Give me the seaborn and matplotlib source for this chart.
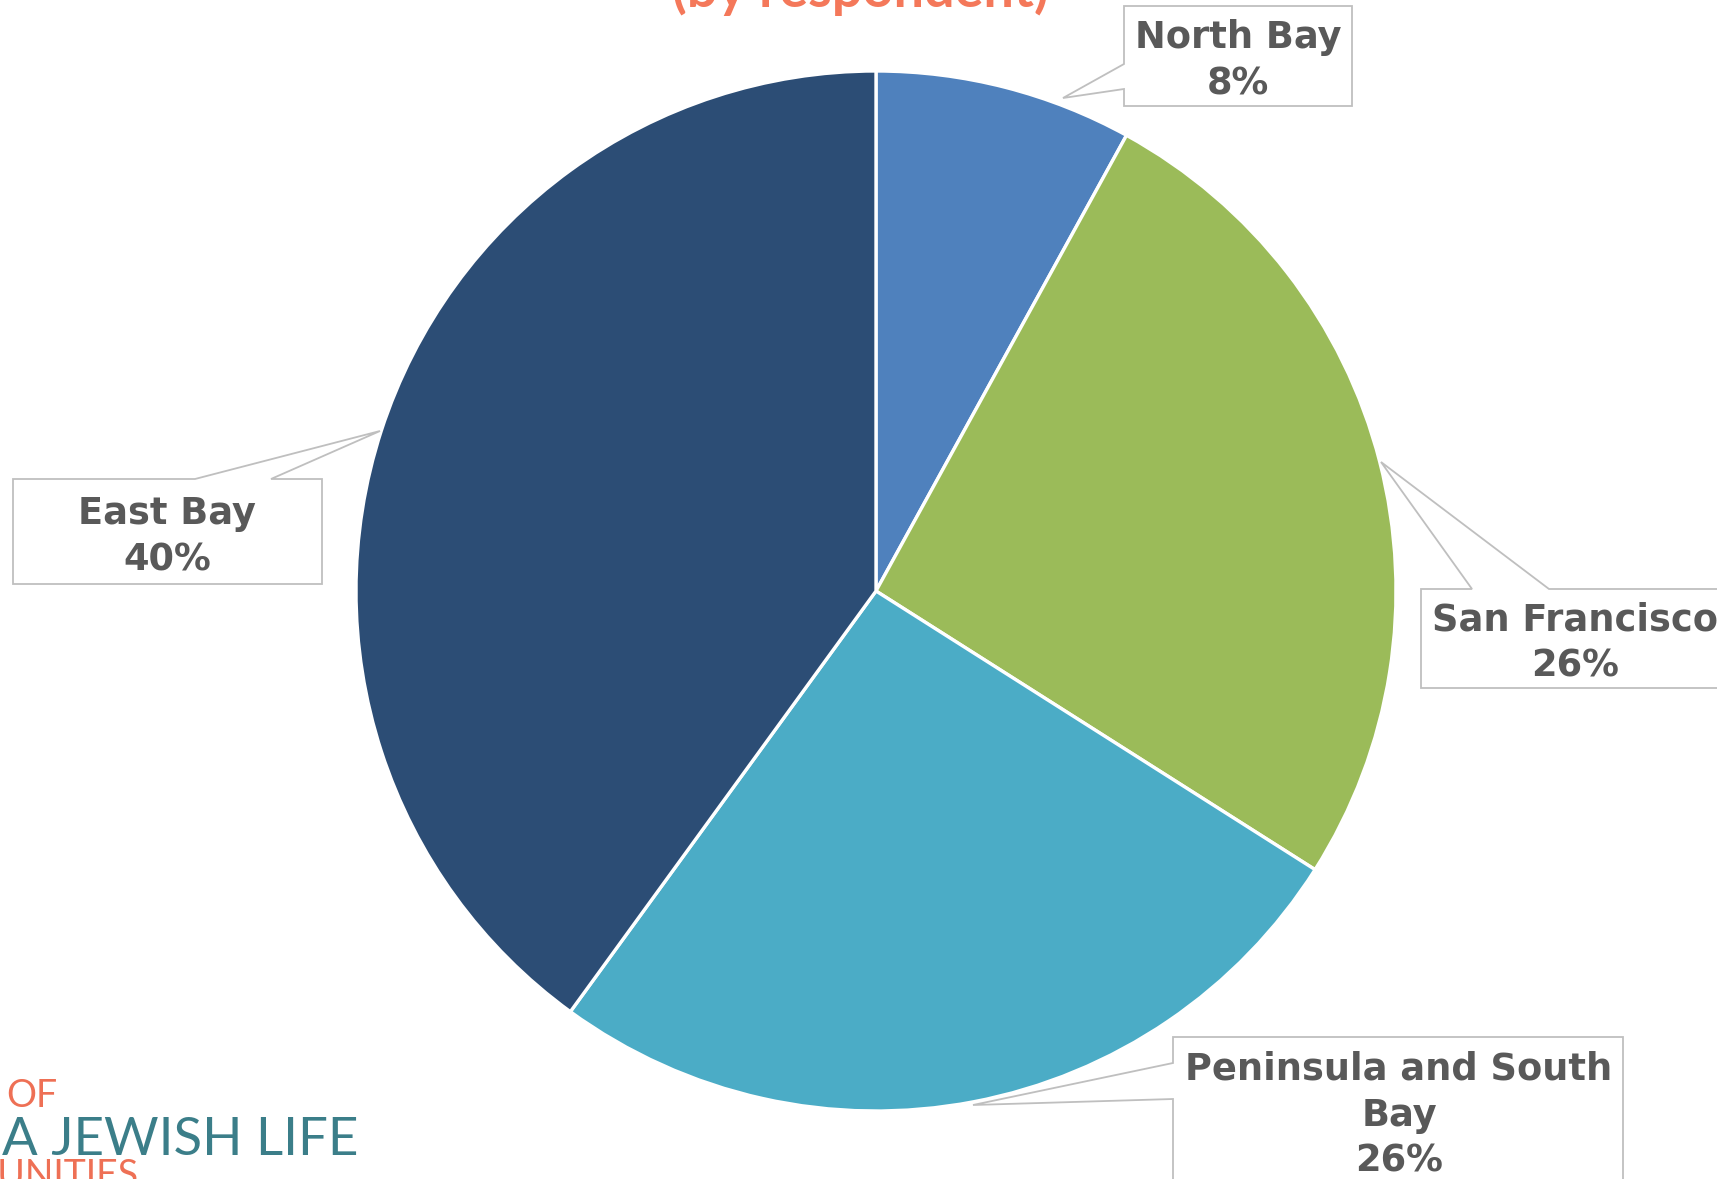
import seaborn as sns
import matplotlib.pyplot as plt
from matplotlib.patches import Polygon

# Data
regions = ['North Bay', 'San Francisco', 'Peninsula and South\nBay', 'East Bay']
shares = [8, 26, 26, 40]
colors = ['#4F81BD', '#9BBB59', '#4BACC6', '#2C4D75']
title = '(by respondent)'

W, H = 1717, 1179

sns.set_theme(style='white')
plt.rcParams['font.family'] = ['DejaVu Sans']

fig = plt.figure(figsize=(W / 100, H / 100), dpi=100)
ax = fig.add_axes([0, 0, 1, 1])


def Y(y):
    # image row -> data y
    return H - y


ax.pie(shares, colors=colors, startangle=90, counterclock=False,
       center=(876, Y(591)), radius=520,
       wedgeprops={'edgecolor': 'white', 'linewidth': 2.4})
ax.set_xlim(0, W)
ax.set_ylim(0, H)
ax.axis('off')

# callout boxes: (box left, top, right, bottom), pointer joints, tip, text pos
callouts = [
    dict(box=(1124, 6, 1352, 106), side='left', joints=(64, 89), tip=(1063, 98), txt=(1238, 61)),
    dict(box=(1421, 589, 1760, 688), side='top', joints=(1472, 1549), tip=(1381, 462), txt=(1575, 643)),
    dict(box=(1173, 1037, 1623, 1220), side='left', joints=(1063, 1099), tip=(973, 1105), txt=(1399, 1115)),
    dict(box=(13, 479, 322, 584), side='top', joints=(195, 271), tip=(380, 431), txt=(167, 537)),
]

for name, val, c in zip(regions, shares, callouts):
    L, T, R, B = c['box']
    j1, j2 = c['joints']
    if c['side'] == 'left':
        pts = [(L, T), (R, T), (R, B), (L, B), (L, j2), c['tip'], (L, j1)]
    else:
        pts = [(L, T), (j1, T), c['tip'], (j2, T), (R, T), (R, B), (L, B)]
    pts = [(x, Y(y)) for x, y in pts]
    ax.add_patch(Polygon(pts, closed=True, facecolor='white', edgecolor='#BFBFBF', linewidth=1.3))
    tx, ty = c['txt']
    ax.text(tx, Y(ty), f'{name}\n{val}%', ha='center', va='center', fontsize=26.5,
            fontweight='bold', color='#595959', linespacing=1.32)

# title, cropped at the top
ax.text(860, Y(7), title, ha='center', va='baseline', fontsize=39,
        fontweight='bold', color='#F4785A', family=['Lato', 'DejaVu Sans'])

# logo text, bottom left
ax.text(57, Y(1107), 'OF', ha='right', va='baseline', fontsize=27,
        color='#EE7055', family=['Lato', 'DejaVu Sans'])
ax.text(358, Y(1155), 'A JEWISH LIFE', ha='right', va='baseline', fontsize=38,
        color='#3B7E89', family=['Lato', 'DejaVu Sans'])
ax.text(138, Y(1187), 'COMMUNITIES', ha='right', va='baseline', fontsize=27,
        color='#EE7055', family=['Lato', 'DejaVu Sans'])

fig.savefig('out.png', dpi=100)
